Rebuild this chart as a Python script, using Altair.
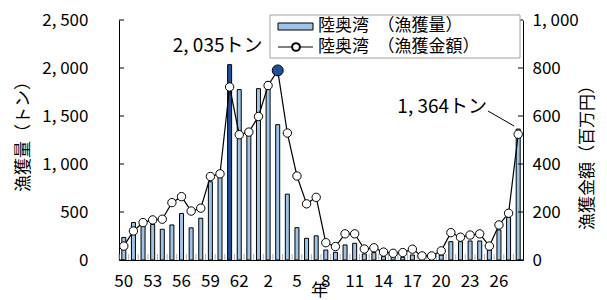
import altair as alt
import pandas as pd

FONT = "Noto Sans CJK JP"

years = ["S50", "S51", "S52", "S53", "S54", "S55", "S56", "S57", "S58", "S59",
         "S60", "S61", "S62", "S63", "H1", "H2", "H3", "H4", "H5", "H6",
         "H7", "H8", "H9", "H10", "H11", "H12", "H13", "H14", "H15", "H16",
         "H17", "H18", "H19", "H20", "H21", "H22", "H23", "H24", "H25", "H26",
         "H27", "H28"]
tons = [235, 390, 410, 370, 320, 365, 485, 335, 435, 815,
        870, 2035, 1775, 1330, 1785, 1860, 1410, 686, 337, 226,
        252, 104, 80, 157, 174, 63, 77, 35, 35, 28,
        52, 14, 15, 52, 191, 191, 198, 198, 104, 313,
        445, 1364]
money = [58, 121, 156, 167, 170, 239, 264, 204, 216, 348,
         359, 721, 522, 533, 598, 727, 790, 529, 350, 234,
         261, 72, 56, 109, 109, 46, 51, 33, 28, 31,
         45, 17, 17, 38, 114, 95, 104, 109, 58, 146,
         195, 524]
tick_years = ["S50", "S53", "S56", "S59", "S62", "H2", "H5", "H8", "H11",
              "H14", "H17", "H20", "H23", "H26"]
ton_ticks = [0, 500, 1000, 1500, 2000, 2500]
money_ticks = [0, 200, 400, 600, 800, 1000]
legend_labels = ["陸奥湾\u3000（漁獲量）", "陸奥湾\u3000（漁獲金額）"]
annot_years = ["S61", "H28"]

LIGHT = "#9DC3E6"
DARK = "#1F4E9A"

df = pd.DataFrame({"year": years, "tons": tons, "money": money})
df["bar_color"] = [DARK if t == max(tons) else LIGHT for t in tons]
df["pt_color"] = [DARK if m == max(money) else "white" for m in money]
df["pt_size"] = [120 if m == max(money) else 70 for m in money]
df["label"] = [f"{t:,}".replace(",", ", ") + "トン" for t in tons]

W, H = 404, 240
xscale = alt.Scale(domain=years, paddingInner=0, paddingOuter=0)
X = alt.X("year:N", scale=xscale, sort=years,
          axis=alt.Axis(values=tick_years, labelExpr="slice(datum.label, 1)",
                        labelAngle=0, ticks=False, domainColor="black",
                        labelOverlap=False, labelFlush=False, labelBound=False,
                        labelFontSize=17, labelPadding=21, labelBaseline="middle",
                        title="年", titleFontSize=17, titleX=200, titleY=30,
                        titleBaseline="middle", titleAlign="center"))
ton_scale = alt.Scale(domain=[0, 2500], nice=False)
money_scale = alt.Scale(domain=[0, 1000], nice=False)

bars = alt.Chart(df).mark_bar(size=4, stroke="black", strokeWidth=1).encode(
    x=X,
    y=alt.Y("tons:Q", scale=ton_scale,
            axis=alt.Axis(values=ton_ticks, ticks=False, grid=False,
                          domainColor="black", labelFontSize=17, labelPadding=31,
                          labelExpr="replace(format(datum.value, ','), ',', ', ')",
                          title="漁獲量（トン）", titleFontSize=17, titleAngle=270,
                          titleX=-96, titleY=112, titleAlign="center",
                          titleBaseline="middle")),
    fill=alt.Fill("bar_color:N", scale=None),
)

xticks = alt.Chart(df).mark_rule(color="#b0b0b0", xOffset=-4.8).encode(
    x=X, y=alt.value(H - 6), y2=alt.value(H))

lticks = alt.Chart(pd.DataFrame({"v": ton_ticks})).mark_rule(color="black").encode(
    y=alt.Y("v:Q", scale=ton_scale, axis=None), x=alt.value(0), x2=alt.value(5))

line = alt.Chart(df).mark_line(color="black", strokeWidth=1.2).encode(
    x=X,
    y=alt.Y("money:Q", scale=money_scale,
            axis=alt.Axis(values=money_ticks, ticks=False, grid=False, orient="right",
                          domainColor="black", labelFontSize=17, labelPadding=9,
                          labelExpr="replace(format(datum.value, ','), ',', ', ')",
                          title="漁獲金額（百万円）", titleFontSize=17, titleAngle=270,
                          titleX=64, titleY=133, titleAlign="center",
                          titleBaseline="middle")),
)
points = alt.Chart(df).mark_point(filled=True, stroke="black", strokeWidth=1,
                                  opacity=1, shape="circle").encode(
    x=X, y=alt.Y("money:Q", scale=money_scale, axis=None),
    fill=alt.Fill("pt_color:N", scale=None),
    size=alt.Size("pt_size:Q", scale=None),
)

rticks = alt.Chart(pd.DataFrame({"v": money_ticks})).mark_rule(color="black").encode(
    y=alt.Y("v:Q", scale=money_scale, axis=None), x=alt.value(W - 5), x2=alt.value(W))

ann1 = alt.Chart(df).transform_filter(alt.datum.year == annot_years[0]).mark_text(
    font=FONT, fontSize=19, dx=-12, dy=-19, align="center", baseline="middle",
    color="black").encode(x=X, y=alt.Y("tons:Q", scale=ton_scale, axis=None),
                          text="label:N")
ann2 = alt.Chart(df).transform_filter(alt.datum.year == annot_years[1]).mark_text(
    font=FONT, fontSize=19, dx=-76, dy=-22, align="center", baseline="middle",
    color="black").encode(x=X, y=alt.Y("tons:Q", scale=ton_scale, axis=None),
                          text="label:N")
leader = alt.Chart(df).transform_filter(alt.datum.year == annot_years[1]).mark_rule(
    color="black", xOffset=-4, yOffset=-3).encode(
    x=X, y=alt.Y("tons:Q", scale=ton_scale, axis=None),
    x2=alt.value(369), y2=alt.value(91))

one = pd.DataFrame({"k": [0]})
leg_box = alt.Chart(one).mark_rect(fill="white", stroke="#a0a0a0", strokeWidth=1).encode(
    x=alt.value(151), x2=alt.value(401), y=alt.value(-5), y2=alt.value(38))
leg_bar = alt.Chart(one).mark_rect(fill=LIGHT, stroke="black", strokeWidth=1).encode(
    x=alt.value(159), x2=alt.value(194), y=alt.value(3), y2=alt.value(10))
leg_line = alt.Chart(one).mark_rule(color="black", strokeWidth=1.2).encode(
    x=alt.value(159), x2=alt.value(194), y=alt.value(27))
leg_pt = alt.Chart(one).mark_point(filled=True, fill="white", stroke="black",
                                   opacity=1, size=60, shape="circle").encode(
    x=alt.value(177), y=alt.value(27))
leg_txt = alt.Chart(pd.DataFrame({"t": legend_labels, "yy": [6, 27]})).mark_text(
    font=FONT, fontSize=17, align="left", baseline="middle", color="black").encode(
    x=alt.value(199), y=alt.Y("yy:Q", scale=None), text="t:N")

chart = alt.layer(
    bars, xticks, lticks, line, points, rticks, ann1, ann2, leader,
    leg_box, leg_bar, leg_line, leg_pt, leg_txt
).resolve_scale(y="independent").properties(
    width=W, height=H,
    padding={"left": 111, "top": 12, "right": 76, "bottom": 40},
    autosize=alt.AutoSizeParams(type="none"),
    background="white",
).configure_view(stroke=None).configure_axis(
    labelFont=FONT, titleFont=FONT, labelColor="black", titleColor="black",
    titleFontWeight="normal", domainWidth=1
)

chart.save("out.html", embed_options={"renderer": "svg", "actions": False})
